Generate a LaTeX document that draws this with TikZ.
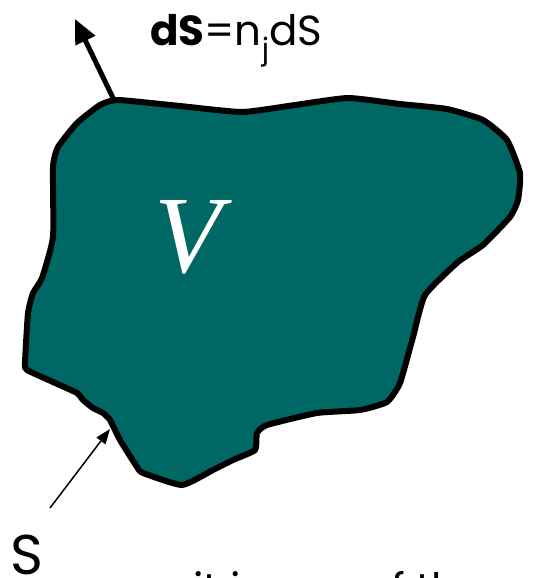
\documentclass[tikz,border=0pt]{standalone}
\usepackage{fontspec}
\setmainfont{Liberation Serif}
\newfontfamily\labelfont{Poppins}
\usetikzlibrary{arrows.meta}
\definecolor{volteal}{RGB}{0,104,100}

\begin{document}
\begin{tikzpicture}[
        x=1pt, y=-1pt,
        % Define styles for the shapes and labels
        region/.style={draw=black, line width=6pt, fill=volteal, line join=round},
        normal_arrow/.style={-{Triangle[length=24pt, width=21pt]}, line width=5pt},
        pointer/.style={-{Triangle[length=15pt, width=11pt]}, line width=1.5pt},
        label_text/.style={font=\labelfont\fontsize{42}{44}\selectfont, inner sep=0pt, anchor=base west},
        vol_text/.style={font=\fontsize{110}{110}\selectfont\itshape, text=white, inner sep=0pt}
    ]
    \useasboundingbox (0,0) rectangle (539,578);

    % === the volume V with its surface S ===
    \draw [region] plot [smooth cycle, tension=0.3] coordinates {
        (118,100) (180,106) (242,112) (295,105) (348,98) (400,104) (447,109)
        (483,120) (507,140) (520,173) (518,200) (510,217) (483,245) (458,262)
        (425,295) (413,337) (400,383) (387,402) (360,410) (317,413) (267,425)
        (257,433) (255,450) (233,460) (213,470) (182,485) (143,473) (137,467)
        (120,440) (110,420) (103,413) (93,408) (83,400) (77,393) (53,382)
        (27,370) (25,363) (28,313) (33,293) (42,278) (53,237) (53,167)
        (58,147) (77,123) (100,105)};
    \node (V) [vol_text] at (188,237) {V};

    % === outward normal dS ===
    \coordinate (dS_base) at (114,100);
    \coordinate (dS_tip) at (75,19);
    \draw [normal_arrow] (dS_base) -- (dS_tip);
    \node (dS_label) [label_text] at (150,46) {\textbf{dS}=n\textsubscript{j}dS};

    % === label of the surface S ===
    \coordinate (S_tail) at (50,508);
    \coordinate (S_head) at (110,429);
    \draw [pointer] (S_tail) -- (S_head);
    \node (S_label) [label_text, font=\labelfont\fontsize{56}{56}\selectfont] at (10,574) {S};

    % === text cut off by the lower edge ===
    \begin{scope}
        \clip (0,0) rectangle (539,578);
        \node (cut_text) [label_text, font=\labelfont\fontsize{42}{42}\selectfont] at (193,603) {it is one of the};
    \end{scope}

\end{tikzpicture}
\end{document}
